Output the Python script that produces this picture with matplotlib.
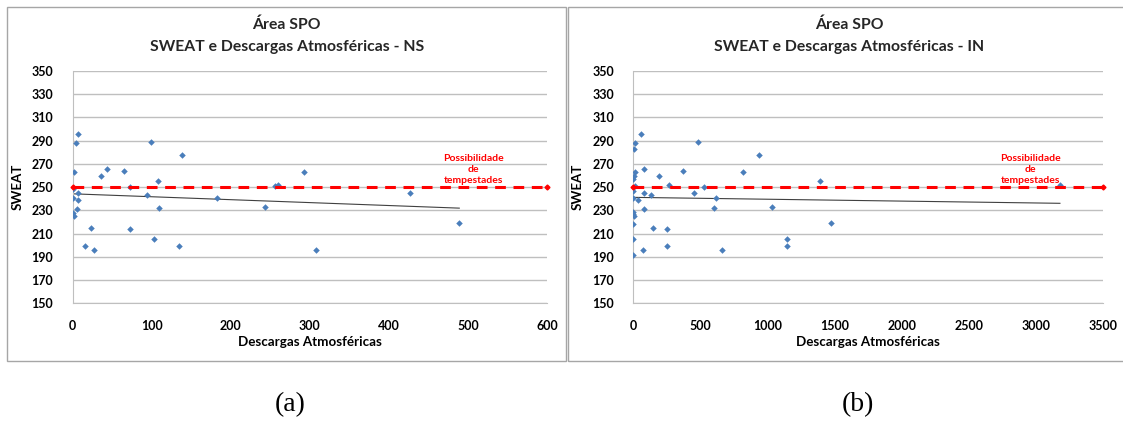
import numpy as np
import matplotlib.pyplot as plt
from matplotlib.patches import Rectangle

# dados (a) - NS
ns_descargas = [7, 4, 99, 138, 2, 44, 36, 65, 108, 72, 0, 7, 1, 7, 94, 182, 6, 109,
                0, 2, 243, 256, 260, 23, 73, 103, 16, 27, 134, 308, 292, 427, 489]
ns_sweat = [296, 288, 289, 278, 263, 266, 260, 264, 255, 250, 248, 245, 241, 239, 243, 241, 231, 232,
            228, 225, 233, 251, 252, 215, 214, 205, 199, 196, 199, 196, 263, 245, 219]

# dados (b) - IN
in_descargas = [55, 10, 5, 479, 936, 15, 5, 0, 80, 189, 368, 817, 1392, 268, 529, 15, 0,
                80, 132, 454, 616, 0, 32, 80, 598, 1030, 0, 0, 7, 0, 144, 251, 1470,
                0, 1144, 1144, 248, 72, 660, 0, 3177]
in_sweat = [296, 288, 283, 289, 278, 263, 260, 257, 266, 260, 264, 263, 255, 252, 250, 251, 247,
            245, 243, 245, 241, 241, 239, 231, 232, 233, 229, 227, 225, 218, 215, 214, 219,
            205, 205, 199, 199, 196, 196, 192, 252]

limiar = 250
yticks = np.arange(150, 351, 20)

fig = plt.figure(figsize=(11.23, 4.21), dpi=100)
W, H = 1123.0, 421.0

fonte = 'Lato'
cinza = '#bfbfbf'
azul = '#4a7ebb'


def desenha(x0, x1, xmax, xstep, xs, ys, sufixo, box_x0, box_x1, caption):
    # moldura do grafico
    fig.patches.append(Rectangle((box_x0 / W, 1 - 361 / H), (box_x1 - box_x0) / W, (361 - 7.3) / H,
                                 transform=fig.transFigure, fill=False, edgecolor='#a6a6a6', lw=1.0))
    cx = (box_x0 + box_x1) / 2 / W
    fig.text(cx, 1 - 25 / H, 'Área SPO', ha='center', va='center', fontsize=11.3,
             fontweight='bold', family=fonte, color='#262626')
    fig.text(cx, 1 - 47 / H, 'SWEAT e Descargas Atmosféricas - ' + sufixo, ha='center', va='center',
             fontsize=11.3, fontweight='bold', family=fonte, color='#262626')

    ax = fig.add_axes([x0 / W, 1 - 303.3 / H, (x1 - x0) / W, (303.3 - 71) / H])
    ax.set_xlim(0, xmax)
    ax.set_ylim(150, 350)
    ax.set_yticks(yticks)
    ax.set_xticks(np.arange(0, xmax + 1, xstep))
    ax.grid(axis='y', color=cinza, lw=1.0)
    ax.set_axisbelow(True)
    for s in ['top', 'right']:
        ax.spines[s].set_visible(False)
    ax.spines['left'].set_color(cinza)
    ax.spines['bottom'].set_color(cinza)
    ax.tick_params(axis='y', length=0, pad=14, labelsize=9)
    ax.tick_params(axis='x', length=0, pad=12, labelsize=9)
    for lb in ax.get_xticklabels() + ax.get_yticklabels():
        lb.set_fontweight('bold')
        lb.set_family(fonte)
    ax.set_xlabel('Descargas Atmosféricas', fontsize=9.6, fontweight='bold', family=fonte, labelpad=3)
    ax.set_ylabel('SWEAT', fontsize=9.6, fontweight='bold', family=fonte, labelpad=6)

    ax.scatter(xs, ys, marker='D', s=11, color=azul, zorder=3, linewidths=0)

    # linha de tendencia
    a, b = np.polyfit(xs, ys, 1)
    xt = np.array([min(xs), max(xs)])
    ax.plot(xt, a * xt + b, color='#404040', lw=0.8, zorder=2)

    # limiar de tempestades
    ax.plot([0, xmax], [limiar, limiar], color='#ff0000', ls=(0, (3.5, 2.5)), lw=2.2,
            marker='D', ms=2.5, zorder=4, clip_on=False)
    ax.text(xmax * 0.845, 265.5, 'Possibilidade\nde\ntempestades', ha='center', va='center',
            fontsize=7.5, fontweight='bold', family=fonte, color='#ff0000', linespacing=1.3)

    fig.text(caption / W, 1 - 405 / H, '(a)' if sufixo == 'NS' else '(b)', ha='center', va='center',
             fontsize=20, family='Liberation Serif')


desenha(72.7, 547, 600, 100, ns_descargas, ns_sweat, 'NS', 7.3, 566, 290)
desenha(633.3, 1103.3, 3500, 500, in_descargas, in_sweat, 'IN', 568.3, 1130, 858)

fig.savefig('out.png', dpi=100)
